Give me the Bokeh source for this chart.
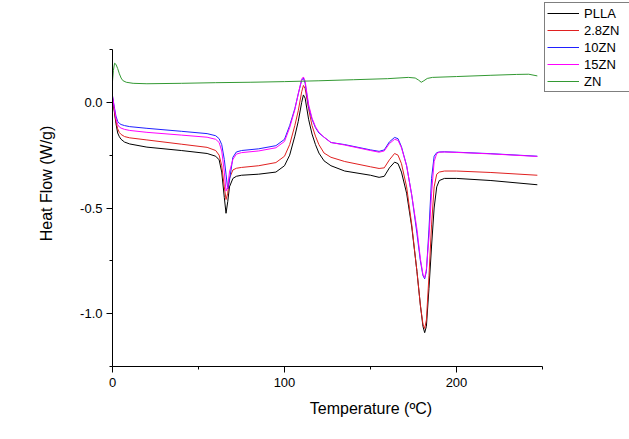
from bokeh.plotting import figure
from bokeh.models import Range1d, FixedTicker, PrintfTickFormatter, Legend, LegendItem
from bokeh.embed import file_html
from bokeh.resources import INLINE

# Temperature grid (°C) for the PLLA-based samples
temp = [0, 1, 2, 3, 4, 5, 7, 10, 20, 40, 55, 60, 62, 63.5, 65, 66, 67, 68,
        70, 72, 75, 85, 95, 100, 103, 106, 108, 110, 111, 112, 114, 116, 118,
        120, 123, 127, 135, 150, 155, 158, 161, 164, 166, 168, 171, 174, 177,
        179, 180.5, 181.5, 182.5, 184, 185.5, 187, 188.5, 190, 193, 200, 220, 247]

pla = [0.02, -0.04, -0.10, -0.145, -0.163, -0.175, -0.188, -0.197, -0.212, -0.228,
       -0.242, -0.255, -0.272, -0.33, -0.45, -0.525, -0.47, -0.40,
       -0.36, -0.35, -0.345, -0.34, -0.33, -0.30, -0.25, -0.16, -0.09, 0.0,
       0.035, 0.02, -0.08, -0.15, -0.20, -0.24, -0.277, -0.30, -0.325, -0.345,
       -0.355, -0.35, -0.31, -0.283, -0.29, -0.33, -0.43, -0.59, -0.80,
       -0.96, -1.06, -1.09, -1.06, -0.88, -0.68, -0.50, -0.40, -0.37, -0.36,
       -0.36, -0.37, -0.39]

zn28 = [0.02, -0.035, -0.09, -0.125, -0.143, -0.152, -0.162, -0.168, -0.178, -0.198,
        -0.213, -0.228, -0.25, -0.30, -0.40, -0.46, -0.43, -0.36,
        -0.32, -0.312, -0.308, -0.30, -0.285, -0.255, -0.20, -0.11, -0.04, 0.05,
        0.08, 0.065, -0.03, -0.11, -0.16, -0.20, -0.24, -0.26, -0.28, -0.305,
        -0.313, -0.31, -0.272, -0.242, -0.25, -0.29, -0.40, -0.58, -0.80,
        -0.96, -1.05, -1.07, -1.03, -0.82, -0.58, -0.40, -0.34, -0.33, -0.325,
        -0.325, -0.332, -0.345]

zn10 = [0.03, -0.02, -0.065, -0.09, -0.10, -0.105, -0.11, -0.115, -0.123, -0.137,
        -0.148, -0.158, -0.172, -0.20, -0.27, -0.34, -0.41, -0.37,
        -0.26, -0.235, -0.228, -0.22, -0.205, -0.175, -0.11, -0.03, 0.04, 0.105,
        0.115, 0.09, -0.02, -0.08, -0.12, -0.145, -0.165, -0.19, -0.20, -0.225,
        -0.232, -0.225, -0.187, -0.166, -0.172, -0.21, -0.30, -0.44, -0.62,
        -0.75, -0.82, -0.835, -0.80, -0.60, -0.36, -0.255, -0.238, -0.235, -0.234,
        -0.236, -0.243, -0.255]

zn15 = [0.03, -0.025, -0.075, -0.105, -0.117, -0.122, -0.128, -0.133, -0.142, -0.155,
        -0.165, -0.175, -0.19, -0.23, -0.33, -0.42, -0.40, -0.33,
        -0.27, -0.245, -0.238, -0.23, -0.215, -0.185, -0.12, -0.035, 0.04, 0.11,
        0.12, 0.10, -0.01, -0.075, -0.115, -0.142, -0.165, -0.19, -0.202, -0.228,
        -0.236, -0.23, -0.195, -0.175, -0.18, -0.215, -0.30, -0.44, -0.60,
        -0.74, -0.815, -0.83, -0.79, -0.64, -0.43, -0.28, -0.242, -0.236, -0.235,
        -0.237, -0.244, -0.256]

# ZN curve on its own temperature grid
temp_zn = [0, 0.5, 1.2, 2, 3, 4, 5, 6, 8, 12, 20, 40, 60, 80, 100, 120, 140, 160,
           172, 176, 178, 179.5, 181, 183, 186, 200, 220, 235, 242, 247]
zn = [0.10, 0.15, 0.185, 0.18, 0.16, 0.135, 0.115, 0.103, 0.095, 0.09, 0.088, 0.09,
      0.093, 0.095, 0.098, 0.102, 0.107, 0.112, 0.118, 0.115, 0.105, 0.095, 0.102,
      0.113, 0.118, 0.122, 0.128, 0.132, 0.133, 0.125]

labels = ["PLLA", "2.8ZN", "10ZN", "15ZN", "ZN"]
colors = ["#000000", "#e02020", "#2020ff", "#ff00ff", "#339933"]

x_ticks = [0, 100, 200]
x_minor = [50, 150, 250]
y_ticks = [-1.0, -0.5, 0.0]
y_minor = [-1.25, -0.75, -0.25, 0.25]
x_axis_bounds = (0, 250)
y_axis_bounds = (-1.25, 0.25)

FONT = "Liberation Sans"

W, H = 629, 439
LEFT, BOTTOM = 112, 73
frame_w = W - LEFT
frame_h = H - BOTTOM
# 250 °C span over 430 px, 1.5 W/g span over 317 px
x_end = 250 * frame_w / 430.0
y_end = 0.25 + 49 * 1.5 / 317.0

p = figure(width=W, height=H, output_backend="svg", toolbar_location=None,
           x_range=Range1d(0, x_end), y_range=Range1d(-1.25, y_end),
           min_border_left=LEFT, min_border_right=0, min_border_top=0,
           min_border_bottom=BOTTOM)
p.outline_line_color = None
p.xgrid.visible = False
p.ygrid.visible = False

series = [(temp, pla), (temp, zn28), (temp, zn10), (temp, zn15), (temp_zn, zn)]
renderers = []
for (xs, ys), c in zip(series, colors):
    r = p.line(xs, ys, line_color=c, line_width=1)
    renderers.append(r)

for ax in (p.xaxis[0], p.yaxis[0]):
    ax.axis_line_color = "black"
    ax.axis_line_width = 1
    ax.major_tick_line_color = "black"
    ax.minor_tick_line_color = "black"
    ax.major_tick_in = 0
    ax.major_tick_out = 6
    ax.minor_tick_in = 0
    ax.minor_tick_out = 3
    ax.major_label_text_font = FONT
    ax.major_label_text_font_size = "13px"
    ax.major_label_text_color = "black"
    ax.axis_label_text_font = FONT
    ax.axis_label_text_font_size = "16px"
    ax.axis_label_text_font_style = "normal"
    ax.axis_label_text_color = "black"

p.xaxis[0].bounds = x_axis_bounds
p.yaxis[0].bounds = y_axis_bounds
p.xaxis[0].ticker = FixedTicker(ticks=x_ticks, minor_ticks=x_minor)
p.yaxis[0].ticker = FixedTicker(ticks=y_ticks, minor_ticks=y_minor)
p.yaxis[0].formatter = PrintfTickFormatter(format="%.1f")
p.xaxis[0].axis_label = "Temperature (ºC)"
p.yaxis[0].axis_label = "Heat Flow (W/g)"
p.xaxis[0].major_label_standoff = 5
p.yaxis[0].major_label_standoff = 4
p.xaxis[0].axis_label_standoff = 10
p.yaxis[0].axis_label_standoff = 22

legend = Legend(items=[LegendItem(label=l, renderers=[r]) for l, r in zip(labels, renderers)],
                location=(432, frame_h - 92))
legend.border_line_color = "black"
legend.border_line_width = 1
legend.background_fill_color = "white"
legend.label_text_font = FONT
legend.label_text_font_size = "13px"
legend.label_text_color = "black"
legend.glyph_width = 32
legend.glyph_height = 16
legend.label_height = 16
legend.label_width = 50
legend.label_standoff = 5
legend.spacing = 1
legend.padding = 2
legend.margin = 0
p.add_layout(legend, "center")

open("out.html", "w").write(file_html(p, INLINE))
